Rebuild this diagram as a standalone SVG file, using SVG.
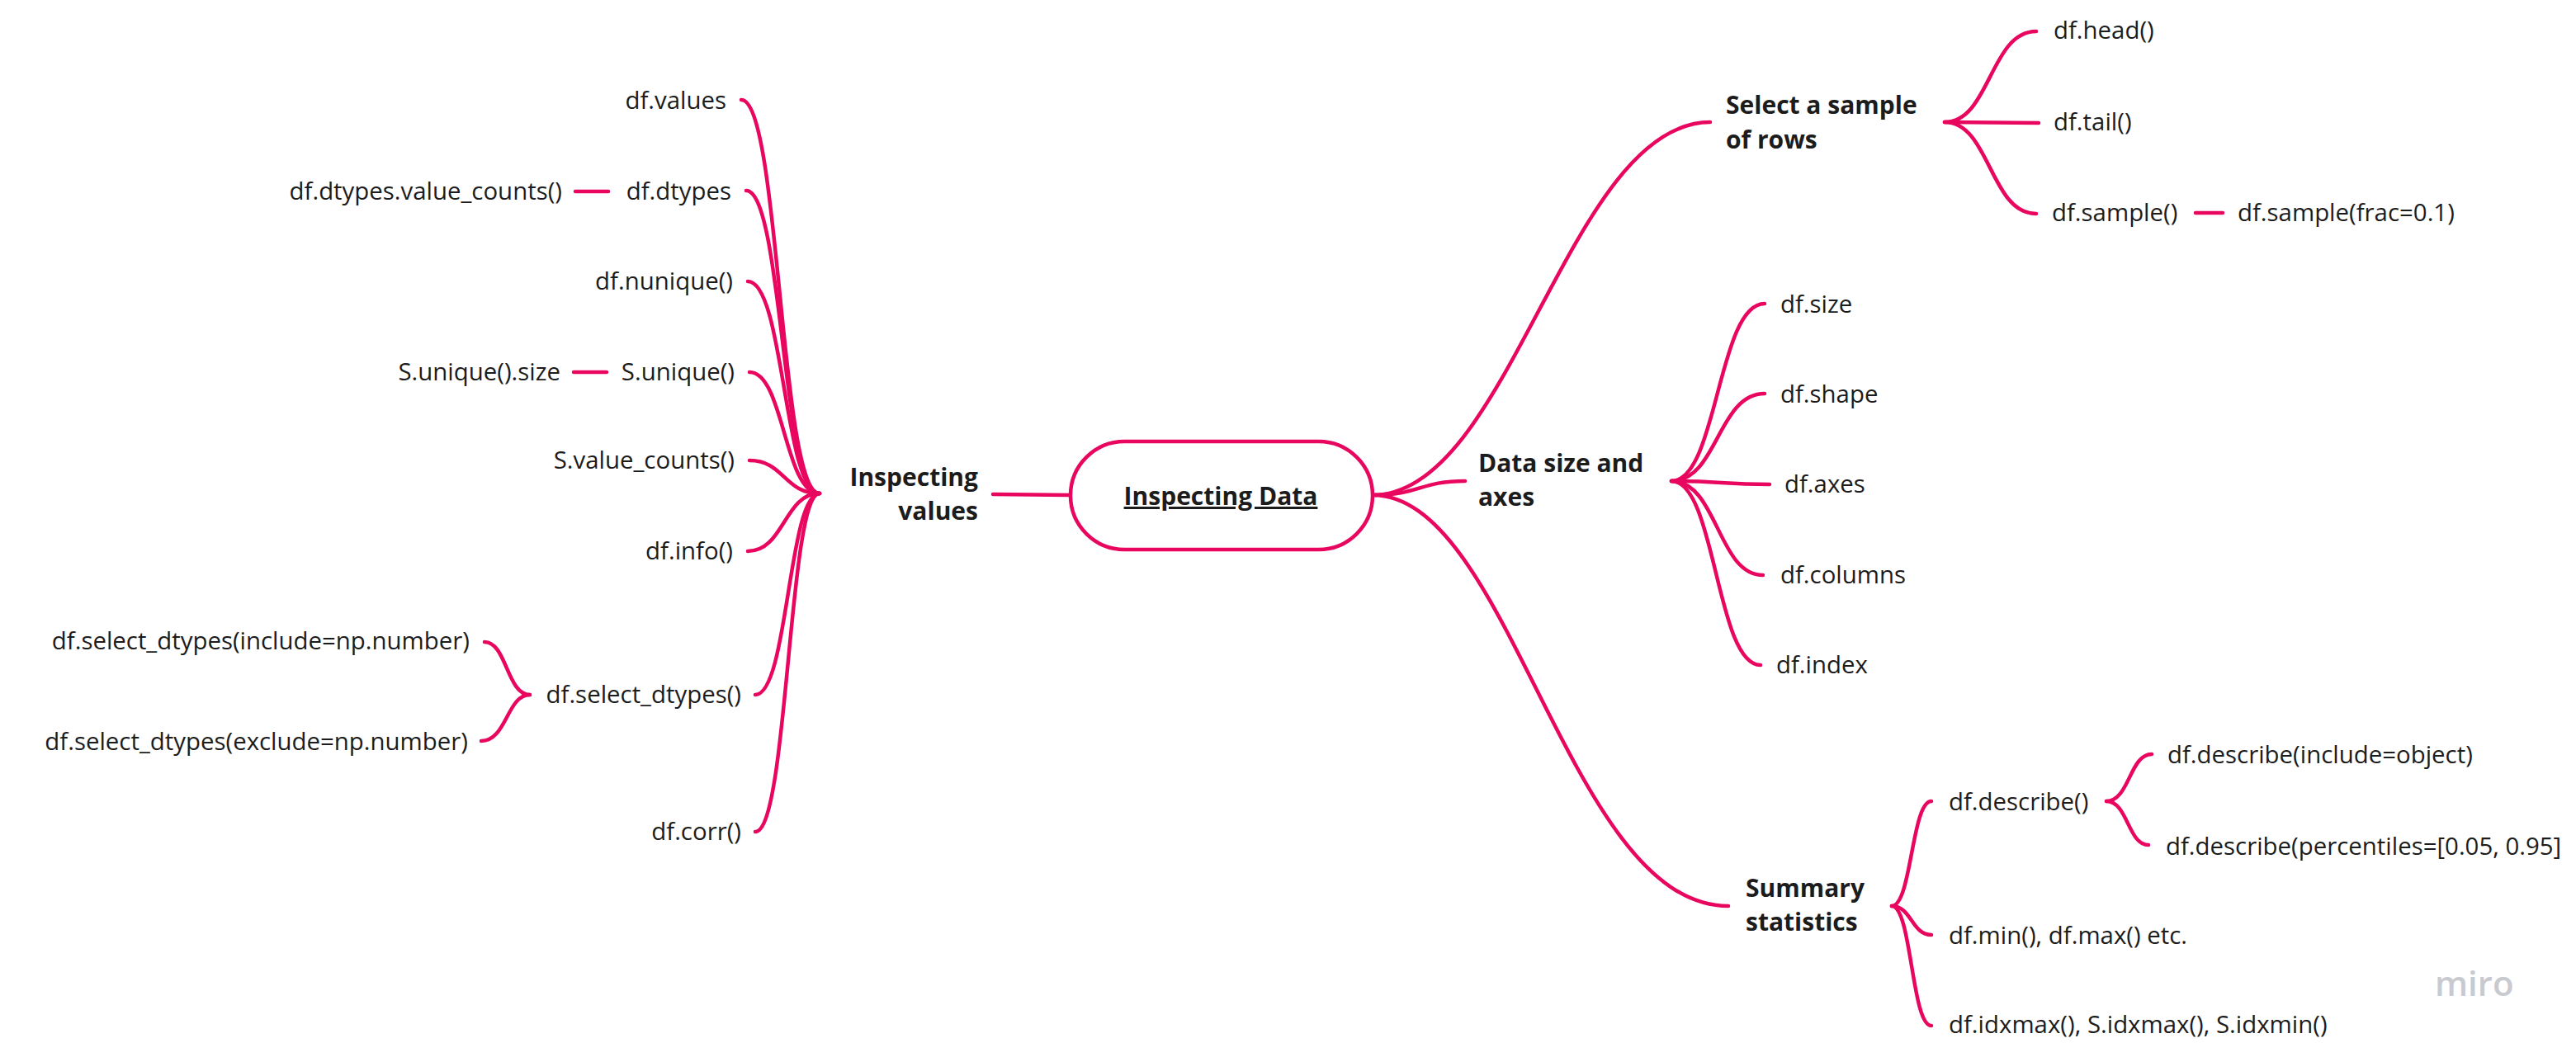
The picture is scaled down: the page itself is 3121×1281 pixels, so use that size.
<svg xmlns="http://www.w3.org/2000/svg" width="3121" height="1281" viewBox="0 0 3121 1281">
<style>
.c{fill:none;stroke:#e8065e;stroke-width:4.5;stroke-linecap:round}
.t{font-family:"Open Sans","Liberation Sans",sans-serif;font-size:29.4px;fill:#1c1c1c}
.b{font-family:"Open Sans","Liberation Sans",sans-serif;font-size:30px;font-weight:700;fill:#1c1c1c}
.e{text-anchor:end}
</style>
<rect width="3121" height="1281" fill="#ffffff"/>
<g id="connectors">
<path class="c" d="M1297,600 L1203,599"/>
<path class="c" d="M1663,600 C1720,600 1720,583 1775,583"/>
<path class="c" d="M1663,600 C1830,600 1900,148 2072,148"/>
<path class="c" d="M1663,600 C1830,600 1900,1098 2094,1098"/>
<path class="c" d="M898,121 C945,121 945,598 993,598"/>
<path class="c" d="M904,231 C948,231 948,598 993,598"/>
<path class="c" d="M906,341 C950,341 950,598 993,598"/>
<path class="c" d="M908,451 C950,451 950,598 993,598"/>
<path class="c" d="M908,558 C950,558 950,598 993,598"/>
<path class="c" d="M906,668 C950,668 950,598 993,598"/>
<path class="c" d="M915,842 C955,842 955,598 993,598"/>
<path class="c" d="M915,1008 C955,1008 955,598 993,598"/>
<path class="c" d="M697,232 L737,232"/>
<path class="c" d="M695,451 L735,451"/>
<path class="c" d="M642,842 C614,842 614,778 587,778"/>
<path class="c" d="M642,842 C614,842 614,898 583,898"/>
<path class="c" d="M2356,148 C2411,148 2411,38 2467,38"/>
<path class="c" d="M2356,148 L2470,149"/>
<path class="c" d="M2356,148 C2411,148 2411,259 2467,259"/>
<path class="c" d="M2660,258 L2693,258"/>
<path class="c" d="M2025,583 C2081,583 2081,368 2138,368"/>
<path class="c" d="M2025,583 C2081,583 2081,477 2138,477"/>
<path class="c" d="M2025,583 C2085,583 2085,587 2144,587"/>
<path class="c" d="M2025,583 C2081,583 2081,697 2136,697"/>
<path class="c" d="M2025,583 C2079,583 2079,806 2133,806"/>
<path class="c" d="M2292,1098 C2316,1098 2316,971 2340,971"/>
<path class="c" d="M2292,1098 C2316,1098 2316,1133 2340,1133"/>
<path class="c" d="M2292,1098 C2316,1098 2316,1243 2340,1243"/>
<path class="c" d="M2552,971 C2580,971 2580,914 2607,914"/>
<path class="c" d="M2552,971 C2578,971 2578,1024 2603,1024"/>
</g>
<g id="n-root">
<rect x="1297" y="535" width="366" height="131" rx="65.5" fill="#ffffff" stroke="#e8065e" stroke-width="4.5"/>
<text class="b" x="1479" y="612" text-anchor="middle" text-decoration="underline">Inspecting Data</text>
</g>
<g id="n-inspecting-values"><text class="b e" x="1185" y="589">Inspecting</text><text class="b e" x="1185" y="630">values</text></g>
<g id="n-values"><text class="t e" x="880" y="132">df.values</text></g>
<g id="n-dtypes"><text class="t e" x="886" y="242">df.dtypes</text></g>
<g id="n-dtypes-vc"><text class="t e" x="681" y="242">df.dtypes.value_counts()</text></g>
<g id="n-nunique"><text class="t e" x="888" y="351">df.nunique()</text></g>
<g id="n-sunique"><text class="t e" x="890" y="461">S.unique()</text></g>
<g id="n-sunique-size"><text class="t e" x="679" y="461">S.unique().size</text></g>
<g id="n-svc"><text class="t e" x="890" y="568">S.value_counts()</text></g>
<g id="n-info"><text class="t e" x="888" y="678">df.info()</text></g>
<g id="n-select"><text class="t e" x="898" y="852">df.select_dtypes()</text></g>
<g id="n-select-inc"><text class="t e" x="569" y="787">df.select_dtypes(include=np.number)</text></g>
<g id="n-select-exc"><text class="t e" x="567" y="909">df.select_dtypes(exclude=np.number)</text></g>
<g id="n-corr"><text class="t e" x="898" y="1018">df.corr()</text></g>
<g id="n-sample-rows"><text class="b" x="2091" y="138">Select a sample</text><text class="b" x="2091" y="180">of rows</text></g>
<g id="n-head"><text class="t" x="2488" y="47">df.head()</text></g>
<g id="n-tail"><text class="t" x="2488" y="158">df.tail()</text></g>
<g id="n-sample"><text class="t" x="2486" y="268">df.sample()</text></g>
<g id="n-sample-frac"><text class="t" x="2711" y="268">df.sample(frac=0.1)</text></g>
<g id="n-size-axes"><text class="b" x="1791" y="572">Data size and</text><text class="b" x="1791" y="613">axes</text></g>
<g id="n-size"><text class="t" x="2157" y="379">df.size</text></g>
<g id="n-shape"><text class="t" x="2157" y="488">df.shape</text></g>
<g id="n-axes"><text class="t" x="2162" y="597">df.axes</text></g>
<g id="n-columns"><text class="t" x="2157" y="707">df.columns</text></g>
<g id="n-index"><text class="t" x="2152" y="816">df.index</text></g>
<g id="n-summary"><text class="b" x="2115" y="1087">Summary</text><text class="b" x="2115" y="1128">statistics</text></g>
<g id="n-describe"><text class="t" x="2361" y="982">df.describe()</text></g>
<g id="n-describe-inc"><text class="t" x="2626" y="925">df.describe(include=object)</text></g>
<g id="n-describe-pct"><text class="t" x="2624" y="1036">df.describe(percentiles=[0.05, 0.95]</text></g>
<g id="n-minmax"><text class="t" x="2361" y="1144">df.min(), df.max() etc.</text></g>
<g id="n-idx"><text class="t" x="2361" y="1252">df.idxmax(), S.idxmax(), S.idxmin()</text></g>
<text x="2950" y="1207" font-family="'Open Sans','Liberation Sans',sans-serif" font-size="42" font-weight="600" fill="#c9cad0">miro</text>
</svg>
